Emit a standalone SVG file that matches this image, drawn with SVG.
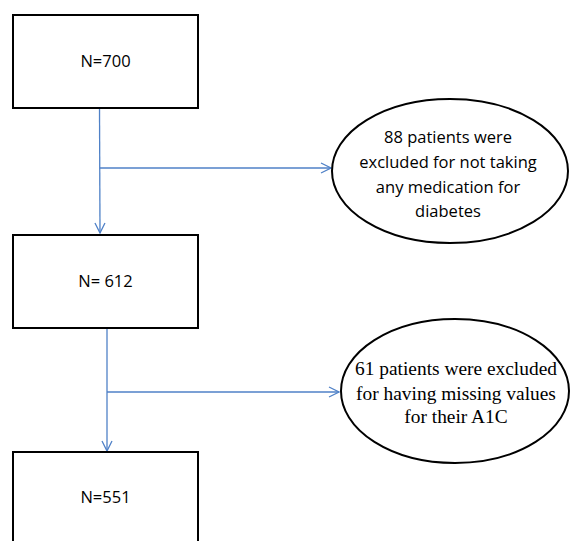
<svg xmlns="http://www.w3.org/2000/svg" width="570" height="541" viewBox="0 0 570 541">
<defs>
<style>
.box{fill:#fff;stroke:#000;stroke-width:2}
.ell{fill:#fff;stroke:#000;stroke-width:2}
.con{fill:none;stroke:#4f81c7;stroke-width:1.3}
.t1{font-family:"Open Sans","Liberation Sans",sans-serif;font-size:16.5px;fill:#000;text-anchor:middle}
.t2{font-family:"Liberation Serif",serif;font-size:19.4px;fill:#000;text-anchor:middle}
</style>
<marker id="arr" viewBox="0 0 12 12" refX="11" refY="6" markerWidth="12" markerHeight="12" markerUnits="userSpaceOnUse" orient="auto">
<path d="M1,1 L11,6 L1,11" fill="none" stroke="#4f81c7" stroke-width="1.3"/>
</marker>
</defs>
<rect width="570" height="541" fill="#fff"/>
<g id="connectors">
<line class="con" x1="99.5" y1="108" x2="100" y2="233" marker-end="url(#arr)"/>
<line class="con" x1="100" y1="168" x2="331" y2="168" marker-end="url(#arr)"/>
<line class="con" x1="107" y1="328" x2="107" y2="451" marker-end="url(#arr)"/>
<line class="con" x1="107" y1="392" x2="339" y2="392" marker-end="url(#arr)"/>
</g>
<g id="n700">
<rect class="box" x="13" y="15" width="185" height="93"/>
<text class="t1" x="105.5" y="67">N=700</text>
</g>
<g id="n612">
<rect class="box" x="13" y="235" width="185" height="93"/>
<text class="t1" x="105.5" y="287">N= 612</text>
</g>
<g id="n551">
<rect class="box" x="13" y="452" width="185" height="100"/>
<text class="t1" x="105.5" y="503">N=551</text>
</g>
<g id="excl1">
<ellipse class="ell" cx="450" cy="171" rx="118" ry="72"/>
<text class="t1" x="448" y="143">88 patients were</text>
<text class="t1" x="448" y="168">excluded for not taking</text>
<text class="t1" x="448" y="193">any medication for</text>
<text class="t1" x="448" y="217">diabetes</text>
</g>
<g id="excl2">
<ellipse class="ell" cx="455" cy="391" rx="114" ry="72"/>
<text class="t2" x="456" y="375">61 patients were excluded</text>
<text class="t2" x="456" y="400">for having missing values</text>
<text class="t2" x="456" y="423">for their A1C</text>
</g>
</svg>
